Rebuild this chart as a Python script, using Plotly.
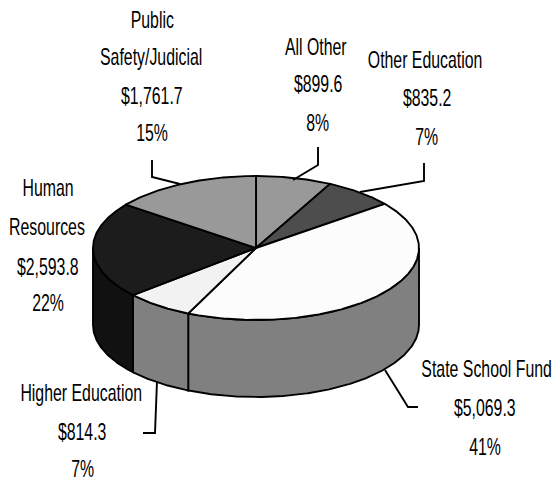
import numpy as np
import plotly.graph_objects as go

# Budget categories, clockwise from twelve o'clock
categories = ["All Other", "Other Education", "State School Fund",
              "Higher Education", "Human Resources", "Public Safety/Judicial"]
amounts = [899.6, 835.2, 5069.3, 814.3, 2593.8, 1761.7]
amount_labels = ["$899.6", "$835.2", "$5,069.3", "$814.3", "$2,593.8", "$1,761.7"]
percent_labels = ["8%", "7%", "41%", "7%", "22%", "15%"]
top_colors = ["#999999", "#4d4d4d", "#fcfcfc", "#f2f2f2", "#1c1c1c", "#999999"]
wall_colors = ["#808080", "#808080", "#808080", "#808080", "#111111", "#808080"]

# Projection of the disc onto the page, in pixels
W, H = 554, 481
CX, CY, RX, RY, DEPTH = 256, 248, 163, 72, 77
LINE = dict(color="black", width=1.9)


def rim(a0, a1, drop=0.0):
    t = np.radians(np.linspace(a0, a1, max(2, int(abs(a1 - a0)) * 2 + 1)))
    return CX + RX * np.sin(t), CY - RY * np.cos(t) + drop


def shape(x, y, fill=None):
    return go.Scatter(x=x, y=y, mode="lines", line=LINE, hoverinfo="skip",
                      fill="toself" if fill else None, fillcolor=fill)


edges = np.concatenate([[0], np.cumsum(amounts)]) / np.sum(amounts) * 360
fig = go.Figure()

# Outer wall: only the part of each slice on the near half of the disc shows
for a0, a1, color in zip(edges[:-1], edges[1:], wall_colors):
    lo, hi = max(a0, 90), min(a1, 270)
    if lo < hi:
        xt, yt = rim(lo, hi)
        xb, yb = rim(lo, hi, DEPTH)
        fig.add_trace(shape(np.r_[xt, xb[::-1], xt[0]], np.r_[yt, yb[::-1], yt[0]], color))

# Top face
for a0, a1, color in zip(edges[:-1], edges[1:], top_colors):
    x, y = rim(a0, a1)
    fig.add_trace(shape(np.r_[CX, x, CX], np.r_[CY, y, CY], color))

# Leader lines from each label to its slice
leaders = [
    ([318, 318, 293], [147, 165, 180]),
    ([424, 424, 360], [163, 181, 192]),
    ([385, 408, 418], [370, 407, 407]),
    ([157, 155, 143], [381, 433, 433]),
    ([152, 152, 180], [160, 177, 184]),
]
for lx, ly in leaders:
    fig.add_trace(shape(lx, ly))

# Each label is stacked line by line: name(s), amount, share
label_layout = [
    ([categories[0]], 0, [316, 318, 317], [47, 84, 123]),
    ([categories[1]], 1, [425, 427, 426], [60, 98, 137]),
    ([categories[2]], 2, [486, 485, 485], [369, 408, 447]),
    ([categories[3]], 3, [81, 82, 82], [393, 432, 469]),
    (["Human", "Resources"], 4, [48, 47, 48, 48], [188, 227, 267, 303]),
    (["Public", "Safety/Judicial"], 5, [152, 151, 152, 152], [20, 57, 96, 133]),
]
for names, i, xs, ys in label_layout:
    lines = names + [amount_labels[i], percent_labels[i]]
    for text, lx, ly in zip(lines, xs, ys):
        fig.add_annotation(x=lx, y=ly, text=text, showarrow=False,
                           xanchor="center", yanchor="middle",
                           font=dict(family="Liberation Sans", size=23, color="black"))

fig.update_layout(width=W, height=H, margin=dict(l=0, r=0, t=0, b=0), autosize=False,
                  showlegend=False, paper_bgcolor="white", plot_bgcolor="white",
                  xaxis=dict(range=[0, W], visible=False, fixedrange=True),
                  yaxis=dict(range=[H, 0], visible=False, fixedrange=True))

# Labels are set in a condensed cut of the sans face
condense = """
document.querySelectorAll('text.annotation-text').forEach(function (t) {
  var b = t.getBBox(), c = b.x + b.width / 2;
  t.setAttribute('transform', 'translate(' + c + ' 0) scale(0.69 1) translate(' + (-c) + ' 0)');
});
"""
fig.write_html("out.html", config={"displayModeBar": False}, post_script=condense)
